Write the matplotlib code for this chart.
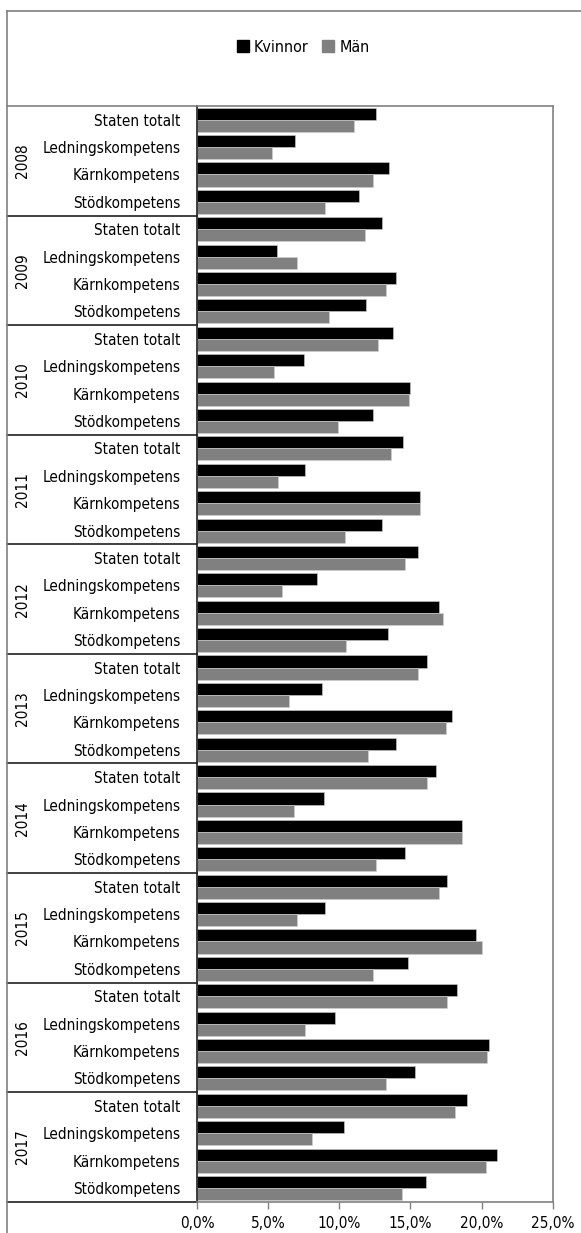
import matplotlib
matplotlib.use("Agg")
import matplotlib.pyplot as plt
from matplotlib import font_manager
from matplotlib.lines import Line2D
from matplotlib.patches import Patch
from matplotlib.ticker import FuncFormatter

years = ["2008", "2009", "2010", "2011", "2012", "2013", "2014", "2015", "2016", "2017"]
categories = ["Staten totalt", "Ledningskompetens", "Kärnkompetens", "Stödkompetens"]

# percent, per year: Staten totalt, Ledning, Kärn, Stöd
kvinnor = [
    [12.6, 6.9, 13.5, 11.4],
    [13.0, 5.6, 14.0, 11.9],
    [13.8, 7.5, 15.0, 12.4],
    [14.5, 7.6, 15.7, 13.0],
    [15.5, 8.4, 17.0, 13.4],
    [16.2, 8.8, 17.9, 14.0],
    [16.8, 8.9, 18.6, 14.6],
    [17.6, 9.0, 19.6, 14.8],
    [18.3, 9.7, 20.5, 15.3],
    [19.0, 10.3, 21.1, 16.1],
]
man = [
    [11.0, 5.3, 12.4, 9.0],
    [11.8, 7.0, 13.3, 9.3],
    [12.7, 5.4, 14.9, 9.9],
    [13.6, 5.7, 15.7, 10.4],
    [14.6, 6.0, 17.3, 10.5],
    [15.5, 6.5, 17.5, 12.0],
    [16.2, 6.8, 18.6, 12.6],
    [17.0, 7.0, 20.0, 12.4],
    [17.6, 7.6, 20.4, 13.3],
    [18.1, 8.1, 20.3, 14.4],
]

# pick a narrow font if one is around
fonts = font_manager.fontManager.ttflist
names = {f.name for f in fonts}
fs = 12
if "Liberation Sans Narrow" in names:
    plt.rcParams["font.family"] = ["Liberation Sans Narrow", "DejaVu Sans"]
elif any(f.name == "DejaVu Sans" and "condensed" in str(f.stretch) for f in fonts):
    plt.rcParams["font.family"] = ["DejaVu Sans"]
    plt.rcParams["font.stretch"] = "condensed"
    fs = 11
else:
    narrow = sorted(n for n in names if "Condensed" in n or "Narrow" in n)
    if narrow:
        plt.rcParams["font.family"] = [narrow[0], "DejaVu Sans"]
    else:
        plt.rcParams["font.family"] = ["DejaVu Sans"]
        fs = 9.5

W, H = 581, 1233
fig = plt.figure(figsize=(W / 100, H / 100), dpi=100)

left_px, right_px, top_px, bot_px = 197, 552.7, 106, 1201.7
ax = fig.add_axes([left_px / W, 1 - bot_px / H, (right_px - left_px) / W, (bot_px - top_px) / H])

n_cat = len(categories)
k_vals, m_vals, centers, labels = [], [], [], []
for gi, year in enumerate(years):
    for ci, cat in enumerate(categories):
        i = gi * n_cat + ci
        centers.append(i + 0.5)
        labels.append(cat)
        k_vals.append(kvinnor[gi][ci])
        m_vals.append(man[gi][ci])

bh = 0.44
ax.barh([c - bh / 2 for c in centers], k_vals, height=bh, color="black",
        edgecolor="#d0d0d0", linewidth=0.4, label="Kvinnor")
ax.barh([c + bh / 2 for c in centers], m_vals, height=bh, color="#808080",
        edgecolor="#d0d0d0", linewidth=0.4, label="Män")

total = len(years) * n_cat
ax.set_ylim(total, 0)
ax.set_xlim(0, 25)
ax.set_xticks([0, 5, 10, 15, 20, 25])
ax.xaxis.set_major_formatter(FuncFormatter(lambda v, p: f"{v:.1f}%".replace(".", ",")))
ax.set_yticks(centers)
ax.set_yticklabels(labels)
ax.tick_params(axis="y", length=0, pad=12, labelsize=fs)
ax.tick_params(axis="x", length=5, width=1, color="#808080", labelsize=fs, pad=5, direction="out")

for side in ["top", "right", "bottom"]:
    ax.spines[side].set_color("#808080")
    ax.spines[side].set_linewidth(1.2)
ax.spines["left"].set_color("#202020")
ax.spines["left"].set_linewidth(1.2)

# group separators and year labels in the category area
trans = ax.get_yaxis_transform()
x_edge = (7.3 - left_px) / (right_px - left_px)
for gi in range(len(years) + 1):
    y = gi * n_cat
    color = "#808080" if gi == 0 else "#202020"
    ax.plot([x_edge, 0], [y, y], color=color, linewidth=1.2, transform=trans, clip_on=False)
for gi, year in enumerate(years):
    ax.text((22 - left_px) / (right_px - left_px), gi * n_cat + n_cat / 2, year,
            rotation=90, ha="center", va="center", fontsize=fs, transform=trans)

# outer frame
fig.add_artist(Line2D([7.3 / W, 7.3 / W], [0, 1 - 10.7 / H], color="#808080", linewidth=1.2))
fig.add_artist(Line2D([7.3 / W, 1], [1 - 10.7 / H, 1 - 10.7 / H], color="#808080", linewidth=1.2))

handles = [Patch(color="black", label="Kvinnor"), Patch(color="#808080", label="Män")]
fig.legend(handles=handles, loc="center", bbox_to_anchor=(303 / W, 1 - 47 / H), ncol=2,
           frameon=False, fontsize=fs + 0.5, handlelength=0.8, handleheight=0.8,
           handletextpad=0.3, columnspacing=0.8)

fig.savefig("out.png", dpi=100)
